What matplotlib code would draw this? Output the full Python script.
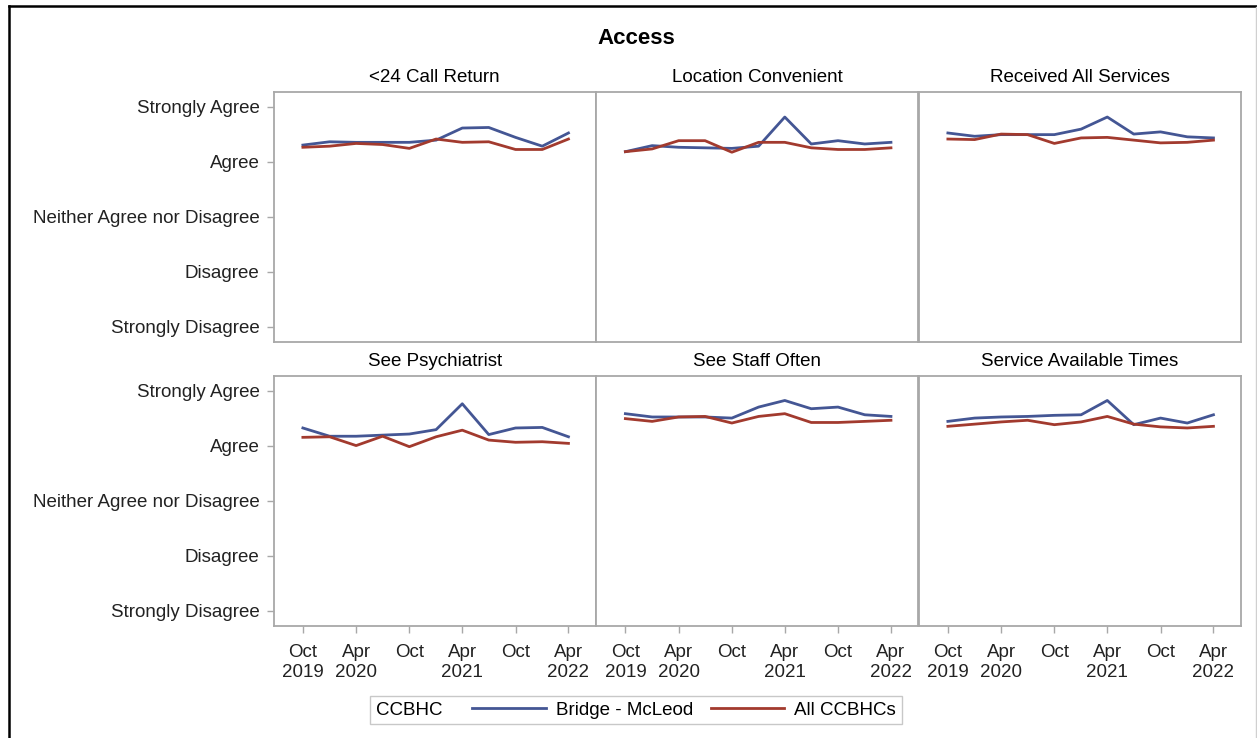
import matplotlib
matplotlib.use("Agg")
import matplotlib.pyplot as plt
import pandas as pd
from matplotlib.lines import Line2D
from matplotlib.offsetbox import HPacker

plt.rcParams["font.family"] = ["Liberation Sans", "DejaVu Sans"]

# ---------------------------------------------------------------------------
# Donnees
# ---------------------------------------------------------------------------
trimestres = ["2019-10-01", "2020-01-01", "2020-04-01", "2020-07-01",
              "2020-10-01", "2021-01-01", "2021-04-01", "2021-07-01",
              "2021-10-01", "2022-01-01", "2022-04-01"]

titres = ["<24 Call Return", "Location Convenient", "Received All Services",
          "See Psychiatrist", "See Staff Often", "Service Available Times"]

series = ["Bridge - McLeod", "All CCBHCs"]

bridge = [
    [4.30, 4.36, 4.35, 4.35, 4.35, 4.39, 4.61, 4.62, 4.44, 4.28, 4.52],
    [4.18, 4.29, 4.26, 4.25, 4.24, 4.28, 4.81, 4.32, 4.38, 4.32, 4.35],
    [4.52, 4.46, 4.49, 4.49, 4.49, 4.59, 4.81, 4.50, 4.54, 4.45, 4.43],
    [4.32, 4.17, 4.17, 4.19, 4.21, 4.29, 4.76, 4.20, 4.32, 4.33, 4.16],
    [4.58, 4.52, 4.52, 4.52, 4.50, 4.70, 4.82, 4.67, 4.70, 4.56, 4.53],
    [4.44, 4.50, 4.52, 4.53, 4.55, 4.56, 4.82, 4.38, 4.50, 4.41, 4.56],
]
tous = [
    [4.26, 4.28, 4.33, 4.31, 4.24, 4.41, 4.35, 4.36, 4.22, 4.22, 4.41],
    [4.18, 4.23, 4.38, 4.38, 4.17, 4.35, 4.35, 4.25, 4.22, 4.22, 4.25],
    [4.41, 4.40, 4.50, 4.49, 4.33, 4.43, 4.44, 4.39, 4.34, 4.35, 4.39],
    [4.15, 4.16, 4.00, 4.17, 3.98, 4.16, 4.28, 4.10, 4.06, 4.07, 4.04],
    [4.49, 4.44, 4.52, 4.53, 4.41, 4.53, 4.58, 4.42, 4.42, 4.44, 4.46],
    [4.35, 4.39, 4.43, 4.46, 4.38, 4.43, 4.53, 4.39, 4.34, 4.32, 4.35],
]

niveaux = [1, 2, 3, 4, 5]
etiquettes_y = ["Strongly Disagree", "Disagree", "Neither Agree nor Disagree",
                "Agree", "Strongly Agree"]

dates_ticks = ["2019-10-01", "2020-04-01", "2020-10-01", "2021-04-01",
               "2021-10-01", "2022-04-01"]
etiquettes_x = ["Oct\n2019", "Apr\n2020", "Oct", "Apr\n2021", "Oct", "Apr\n2022"]

BLEU = "#445694"
ROUGE = "#A23A2E"
GRIS = "#a8a8a8"
TAILLE = 13.5

# ---------------------------------------------------------------------------
# Figure
# ---------------------------------------------------------------------------
W, H = 1257, 738
fig = plt.figure(figsize=(W / 100, H / 100), dpi=100)

x = pd.to_datetime(trimestres)
x_ticks = pd.to_datetime(dates_ticks)
x_lim = (pd.Timestamp("2019-06-22"), pd.Timestamp("2022-07-04"))

gauches = [273.5, 596.0, 918.5]
hauts = [92, 376]
larg, haut = 322.3, 250

for i in range(6):
    lig, col = divmod(i, 3)
    ax = fig.add_axes([gauches[col] / W, 1 - (hauts[lig] + haut) / H,
                       larg / W, haut / H])
    ax.plot(x, bridge[i], color=BLEU, lw=2.0, label=series[0])
    ax.plot(x, tous[i], color=ROUGE, lw=2.0, label=series[1])
    ax.set_xlim(x_lim)
    ax.set_ylim(0.72, 5.265)
    ax.set_title(titres[i], fontsize=TAILLE, pad=7.5)
    for sp in ax.spines.values():
        sp.set_color(GRIS)
        sp.set_linewidth(1.3)
    ax.set_yticks(niveaux)
    ax.set_xticks(x_ticks)
    ax.tick_params(color=GRIS, length=5, width=1, labelsize=TAILLE,
                   labelcolor="#222222")
    ax.tick_params(axis="y", pad=5)
    ax.tick_params(axis="x", pad=8)
    if col == 0:
        ax.set_yticklabels(etiquettes_y)
    else:
        ax.tick_params(axis="y", left=False, labelleft=False)
    if lig == 1:
        ax.set_xticklabels(etiquettes_x)
    else:
        ax.tick_params(axis="x", bottom=False, labelbottom=False)

fig.text(636 / W, 1 - 38 / H, "Access", ha="center", va="center",
         fontsize=16, fontweight="bold")

# Legende : titre "CCBHC" a gauche des entrees (sur une seule ligne)
poignees = [Line2D([], [], color=BLEU, lw=2.0), Line2D([], [], color=ROUGE, lw=2.0)]
leg = fig.legend(poignees, series, title="CCBHC", ncol=2, loc="center",
                 bbox_to_anchor=(636 / W, 1 - 710 / H), fontsize=TAILLE,
                 title_fontsize=TAILLE, handlelength=3.9, handletextpad=0.55,
                 columnspacing=0.95, borderpad=0.3, fancybox=False,
                 edgecolor="#c8c8c8", framealpha=1)
fs = leg._fontsize
leg._legend_box = HPacker(pad=leg.borderpad * fs, sep=1.6 * fs, align="baseline",
                          children=[leg._legend_title_box, leg._legend_handle_box])
leg._legend_box.set_figure(fig)
leg._legend_box.axes = leg.axes
leg._legend_box.set_offset(leg._findoffset)

# Cadre exterieur
fig.add_artist(Line2D([8.5 / W, 8.5 / W], [0, 1 - 5.5 / H], color="black",
                      lw=1.8, transform=fig.transFigure))
fig.add_artist(Line2D([8.5 / W, 1], [1 - 5.5 / H, 1 - 5.5 / H], color="black",
                      lw=1.8, transform=fig.transFigure))
fig.add_artist(Line2D([1255.5 / W, 1255.5 / W], [0, 1 - 7 / H], color="#d0d0d0",
                      lw=1, transform=fig.transFigure))

fig.savefig("out.png", dpi=100)
